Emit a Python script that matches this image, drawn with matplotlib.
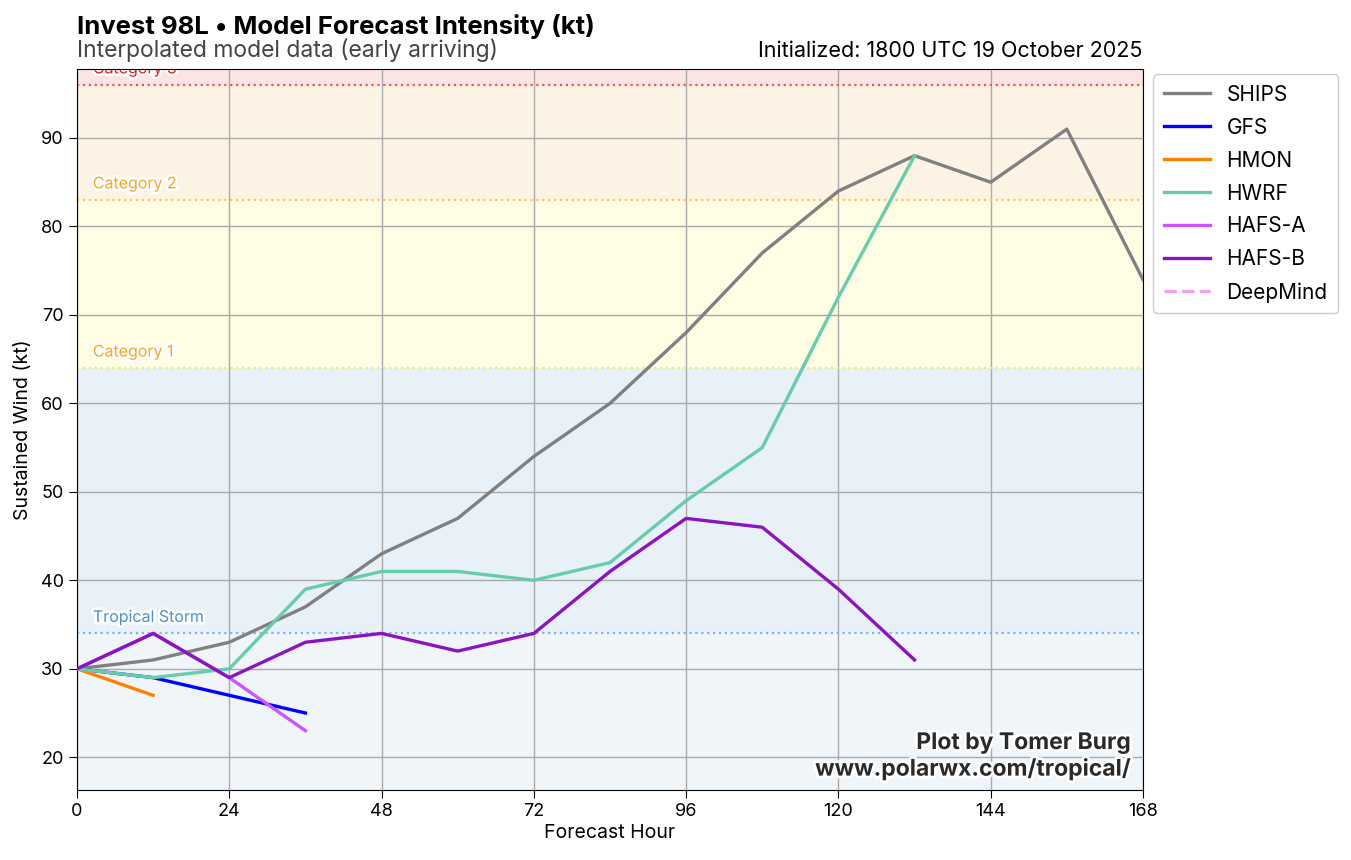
import matplotlib
matplotlib.use("Agg")
import matplotlib.pyplot as plt
import matplotlib.patheffects as pe

plt.rcParams['font.family'] = ['Inter', 'DejaVu Sans']

hours_ships = [0, 12, 24, 36, 48, 60, 72, 84, 96, 108, 120, 132, 144, 156, 168]
ships = [30, 31, 33, 37, 43, 47, 54, 60, 68, 77, 84, 88, 85, 91, 74]
hours_gfs = [0, 12, 24, 36]
gfs = [30, 29, 27, 25]
hours_hmon = [0, 12]
hmon = [30, 27]
hours_hwrf = [0, 12, 24, 36, 48, 60, 72, 84, 96, 108, 120, 132]
hwrf = [30, 29, 30, 39, 41, 41, 40, 42, 49, 55, 72, 88]
hours_hafsa = [0, 12, 24, 36]
hafsa = [30, 34, 29, 23]
hours_hafsb = [0, 12, 24, 36, 48, 60, 72, 84, 96, 108, 120, 132]
hafsb = [30, 34, 29, 33, 34, 32, 34, 41, 47, 46, 39, 31]
hours_deepmind = []
deepmind = []

thresholds = [34, 64, 83, 96]
cat_labels = ["Tropical Storm", "Category 1", "Category 2", "Category 3"]
cat_line_colors = ["#7fb3e6", "#eeee66", "#ffc44d", "#ee5555"]
cat_text_colors = ["#4a90d9", "#f5a623", "#f5a623", "#e02020"]
band_colors = ["#f0f5fa", "#e8f0f8", "#fffde3", "#fdf3e4", "#fce4e4"]

fig = plt.figure(figsize=(13.51, 8.6), dpi=100)
ax = fig.add_axes([0.057, 0.0814, 0.789, 0.8384])

ymin, ymax = 16.3, 97.8
bounds = [ymin] + thresholds + [ymax]
for i in range(len(bounds) - 1):
    ax.axhspan(bounds[i], bounds[i + 1], color=band_colors[i], zorder=0, lw=0)
for t, lab, lc, tc in zip(thresholds, cat_labels, cat_line_colors, cat_text_colors):
    ax.axhline(t, color=lc, ls=':', lw=1.6, zorder=1)
    ax.text(2.5, t + 1.3, lab, color=tc, fontsize=11.5, zorder=2, clip_on=True,
            path_effects=[pe.withStroke(linewidth=4, foreground='white')])

ax.grid(True, color='#aaaaaa', lw=1, zorder=1)
ax.set_axisbelow(True)

series = [
    ("SHIPS", hours_ships, ships, "#808080", '-'),
    ("GFS", hours_gfs, gfs, "#0000ff", '-'),
    ("HMON", hours_hmon, hmon, "#ff8000", '-'),
    ("HWRF", hours_hwrf, hwrf, "#66cdaa", '-'),
    ("HAFS-A", hours_hafsa, hafsa, "#cc55ff", '-'),
    ("HAFS-B", hours_hafsb, hafsb, "#8b14c0", '-'),
    ("DeepMind", hours_deepmind, deepmind, "#f49ef0", '--'),
]
for name, x, y, c, ls in series:
    ax.plot(x, y, color=c, ls=ls, lw=2.4, label=name, zorder=3)

ax.set_xlim(0, 168)
ax.set_ylim(ymin, ymax)
ax.set_xticks([0, 24, 48, 72, 96, 120, 144, 168])
ax.set_yticks([20, 30, 40, 50, 60, 70, 80, 90])
ax.tick_params(labelsize=13, length=6)
ax.set_xlabel("Forecast Hour", fontsize=14, labelpad=3)
ax.set_ylabel("Sustained Wind (kt)", fontsize=14, labelpad=6)

leg = ax.legend(loc='upper left', bbox_to_anchor=(1.0, 1.007), fontsize=15,
                framealpha=1, handlelength=2.2, borderpad=0.5, labelspacing=0.62)

fig.text(77 / 1351, 1 - 34 / 860, "Invest 98L \u2022 Model Forecast Intensity (kt)",
         fontsize=18.5, fontweight='bold', ha='left', va='baseline')
fig.text(77 / 1351, 1 - 57 / 860, "Interpolated model data (early arriving)",
         fontsize=16.5, color='#444444', ha='left', va='baseline')
fig.text(1143 / 1351, 1 - 57 / 860, "Initialized: 1800 UTC 19 October 2025",
         fontsize=15.5, ha='right', va='baseline')

ax.text(0.988, 0.013, "Plot by Tomer Burg\nwww.polarwx.com/tropical/", transform=ax.transAxes,
        fontsize=16.5, fontweight='bold', color='#2a2a2a', ha='right', va='bottom',
        multialignment='right', zorder=5, linespacing=1.2,
        path_effects=[pe.withStroke(linewidth=4, foreground='white')])

fig.savefig("out.png", dpi=100)
